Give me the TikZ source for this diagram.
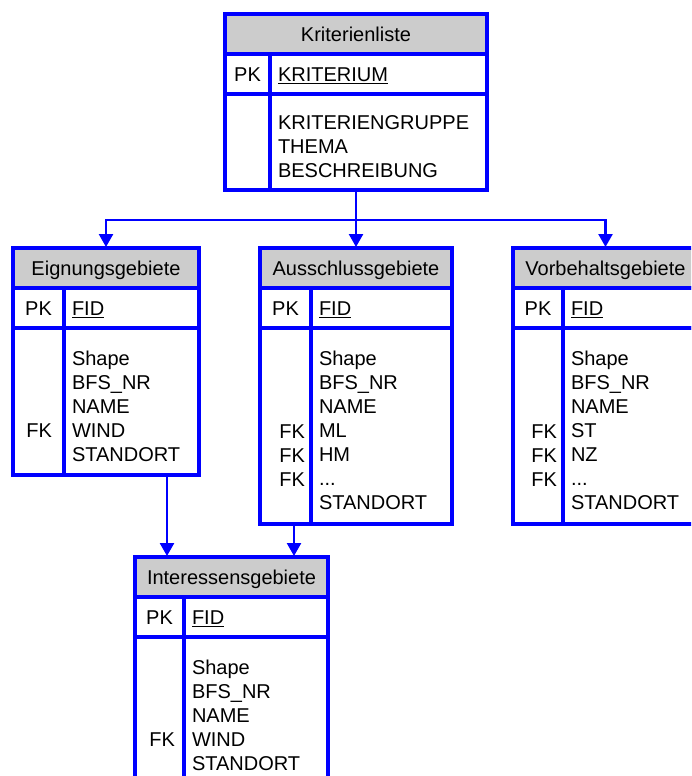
\documentclass[tikz,border=0pt]{standalone}
\usepackage{fontspec}
\setmainfont{Liberation Sans}
\usetikzlibrary{arrows.meta, positioning}
\definecolor{erblue}{RGB}{0,0,255}
\definecolor{hdgray}{RGB}{204,204,204}
\newcommand{\erfont}{\fontsize{20}{24}\selectfont}

\begin{document}
\begin{tikzpicture}[x=1pt, y=-1pt,
  head/.style={draw=erblue, fill=hdgray, line width=4pt, anchor=north west, outer sep=0pt, minimum height=40pt, inner sep=0pt, text height=15pt, text depth=0pt, font=\erfont},
  key/.style={draw=erblue, line width=4pt, anchor=north west, outer sep=0pt, inner ysep=0pt, font=\erfont, align=right},
  fld/.style={draw=erblue, line width=4pt, anchor=north west, outer sep=0pt, inner xsep=8pt, inner ysep=0pt, font=\erfont, align=left},
  pkrow/.style={minimum height=40pt, text height=15pt, text depth=0pt},
  arr/.style={-{Triangle[width=14pt,length=13pt]}, line width=2.5pt, draw=erblue, shorten >=1pt}
]
\useasboundingbox (0,0) rectangle (691,776);
\clip (0,0) rectangle (691,776);

% Kriterienliste
\node[head, minimum width=262pt] (krit) at (225,14) {Kriterienliste};
\node[key, pkrow, align=center, minimum width=45pt] (kritpk) at (krit.south west) {PK};
\node[fld, pkrow, minimum width=217pt, text width=201pt] (kritid) at (kritpk.north east) {\underline{KRITERIUM}};
\node[key, minimum width=45pt, minimum height=96pt] (kritkb) at (kritpk.south west) {};
\node[fld, minimum width=217pt, minimum height=96pt, text width=201pt] (kritfld) at (kritkb.north east)
  {\mbox{}\\KRITERIENGRUPPE\\THEMA\\BESCHREIBUNG};

% Eignungsgebiete
\node[head, minimum width=186pt] (eign) at (13,248) {Eignungsgebiete};
\node[key, pkrow, align=center, minimum width=51pt] (eignpk) at (eign.south west) {PK};
\node[fld, pkrow, minimum width=135pt, text width=119pt] (eignid) at (eignpk.north east) {\underline{FID}};
\node[key, minimum width=51pt, minimum height=147pt, inner xsep=12pt, text width=27pt] (eignkb) at (eignpk.south west)
  {\mbox{}\\\mbox{}\\\mbox{}\\\mbox{}\\FK\\\mbox{}};
\node[fld, minimum width=135pt, minimum height=147pt, text width=119pt] (eignfld) at (eignkb.north east)
  {\mbox{}\\Shape\\BFS\_NR\\NAME\\WIND\\STANDORT};

% Ausschlussgebiete
\node[head, minimum width=192pt] (aus) at (260,248) {Ausschlussgebiete};
\node[key, pkrow, align=center, minimum width=51pt] (auspk) at (aus.south west) {PK};
\node[fld, pkrow, minimum width=141pt, text width=125pt] (ausid) at (auspk.north east) {\underline{FID}};
\node[key, minimum width=51pt, minimum height=196pt, inner xsep=6pt, text width=39pt] (auskb) at (auspk.south west)
  {\mbox{}\\\mbox{}\\\mbox{}\\\mbox{}\\FK\\FK\\FK\\\mbox{}};
\node[fld, minimum width=141pt, minimum height=196pt, text width=125pt] (ausfld) at (auskb.north east)
  {\mbox{}\\Shape\\BFS\_NR\\NAME\\ML\\HM\\...\\STANDORT};

% Vorbehaltsgebiete
\node[head, minimum width=185pt] (vorb) at (513,248) {Vorbehaltsgebiete};
\node[key, pkrow, align=center, minimum width=50pt] (vorbpk) at (vorb.south west) {PK};
\node[fld, pkrow, minimum width=135pt, text width=119pt] (vorbid) at (vorbpk.north east) {\underline{FID}};
\node[key, minimum width=50pt, minimum height=196pt, inner xsep=6pt, text width=38pt] (vorbkb) at (vorbpk.south west)
  {\mbox{}\\\mbox{}\\\mbox{}\\\mbox{}\\FK\\FK\\FK\\\mbox{}};
\node[fld, minimum width=135pt, minimum height=196pt, text width=119pt] (vorbfld) at (vorbkb.north east)
  {\mbox{}\\Shape\\BFS\_NR\\NAME\\ST\\NZ\\...\\STANDORT};

% Interessensgebiete
\node[head, minimum width=193pt] (inter) at (135,557) {Interessensgebiete};
\node[key, pkrow, align=center, minimum width=49pt] (interpk) at (inter.south west) {PK};
\node[fld, pkrow, minimum width=144pt, text width=128pt] (interid) at (interpk.north east) {\underline{FID}};
\node[key, minimum width=49pt, minimum height=147pt, inner xsep=9pt, text width=31pt] (interkb) at (interpk.south west)
  {\mbox{}\\\mbox{}\\\mbox{}\\\mbox{}\\FK\\\mbox{}};
\node[fld, minimum width=144pt, minimum height=147pt, text width=128pt] (interfld) at (interkb.north east)
  {\mbox{}\\Shape\\BFS\_NR\\NAME\\WIND\\STANDORT};

% Beziehungen
\coordinate (split) at (356,220);
\coordinate (e2i) at (167,475);
\coordinate (a2i) at (294,524);
\draw[arr] (krit |- kritfld.south) -- (aus.north);
\draw[arr] (split) -| (eign.north);
\draw[arr] (split) -| (vorb.north);
\draw[arr] (e2i) -- (e2i |- inter.north);
\draw[arr] (a2i) -- (a2i |- inter.north);
\end{tikzpicture}
\end{document}
